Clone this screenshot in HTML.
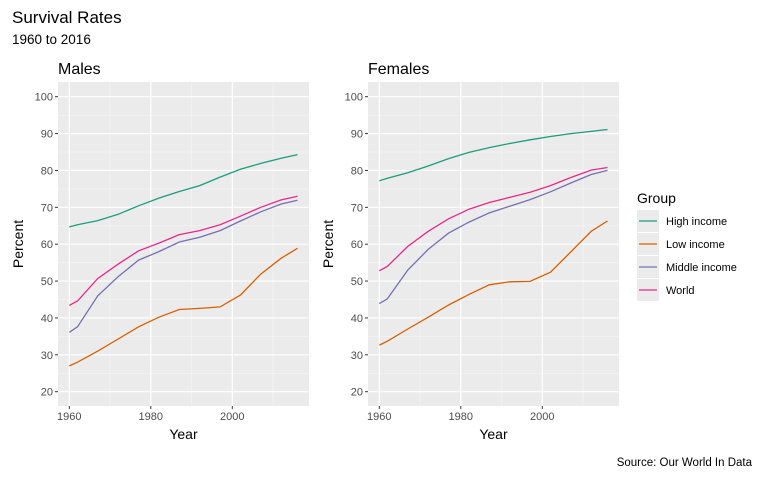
<!DOCTYPE html>
<html><head><meta charset="utf-8"><style>
body{margin:0;background:#fff;font-family:"Liberation Sans",Arial,sans-serif}
svg text{font-family:"Liberation Sans",Arial,sans-serif}
</style></head><body>
<svg id="c" width="768" height="474" xmlns="http://www.w3.org/2000/svg">
<text x="12" y="23" font-size="17" fill="#000">Survival Rates</text>
<text x="12" y="44" font-size="13.5" fill="#000">1960 to 2016</text>
<text x="752" y="466" font-size="11.5" fill="#000" text-anchor="end">Source: Our World In Data</text>
<g id="plots"></g>
<g>
<text x="637" y="203" font-size="14" fill="#000">Group</text>
<g id="leg"></g>
</g>
</svg>
<script>
const years=[1960,1962,1967,1972,1977,1982,1987,1992,1997,2002,2007,2012,2016];
const groups=["High income","Low income","Middle income","World"];
const colors=["#1b9e77","#d95f02","#7570b3","#e7298a"];
const malesHigh=[64.7,65.3,66.4,68.1,70.4,72.5,74.3,75.9,78.2,80.3,81.9,83.3,84.3];
const malesLow=[27,28,31,34.3,37.6,40.2,42.3,42.6,43,46.2,51.9,56.2,58.9];
const malesMiddle=[36.1,37.6,46,51.2,55.7,58,60.6,61.9,63.7,66.3,68.8,70.9,71.9];
const malesWorld=[43.4,44.6,50.7,54.6,58.2,60.3,62.6,63.7,65.3,67.6,70,72,73];
const femalesHigh=[77.2,77.9,79.4,81.2,83.2,84.9,86.2,87.3,88.3,89.2,90,90.6,91.1];
const femalesLow=[32.6,33.7,37,40.2,43.5,46.4,49,49.8,49.9,52.4,57.9,63.5,66.3];
const femalesMiddle=[43.9,45.2,53,58.6,63,66,68.5,70.3,72.1,74.2,76.6,78.9,80];
const femalesWorld=[52.8,54,59.4,63.5,66.9,69.5,71.3,72.7,74.1,75.9,78.1,80.1,80.8];
const yTicks=[20,30,40,50,60,70,80,90,100];
const xTicks=[1960,1980,2000];
const NS="http://www.w3.org/2000/svg";
function mk(tag,attrs,parent){const e=document.createElementNS(NS,tag);for(const k in attrs)e.setAttribute(k,attrs[k]);parent.appendChild(e);return e;}
const plots=document.getElementById('plots');
const panels=[{t:"Males",off:0,s:[malesHigh,malesLow,malesMiddle,malesWorld]},{t:"Females",off:310,s:[femalesHigh,femalesLow,femalesMiddle,femalesWorld]}];
const yS=v=>391.7-(v-20)*(391.7-96.7)/80;
panels.forEach(p=>{
  const xS=v=>69.3+p.off+(v-1960)*4.075;
  const g=mk('g',{},plots);
  
  
  const L=58+p.off,R=309+p.off,T=82,B=406;
  mk('rect',{x:L,y:T,width:R-L,height:B-T,fill:'#ebebeb'},g);
  for(let v=25;v<=95;v+=10)mk('line',{x1:L,x2:R,y1:yS(v),y2:yS(v),stroke:'#f5f5f5','stroke-width':0.6},g);
  for(let v=1970;v<=2010;v+=20)mk('line',{x1:xS(v),x2:xS(v),y1:T,y2:B,stroke:'#f5f5f5','stroke-width':0.6},g);
  yTicks.forEach(v=>{
    mk('line',{x1:L,x2:R,y1:yS(v),y2:yS(v),stroke:'#fff','stroke-width':1.2},g);
    mk('line',{x1:L-3,x2:L,y1:yS(v),y2:yS(v),stroke:'#333','stroke-width':1},g);
    const t=mk('text',{x:L-5,y:yS(v)+4,'font-size':11,fill:'#4d4d4d','text-anchor':'end'},g);t.textContent=v;
    
    
  });
  xTicks.forEach(v=>{
    mk('line',{x1:xS(v),x2:xS(v),y1:T,y2:B,stroke:'#fff','stroke-width':1.2},g);
    mk('line',{x1:xS(v),x2:xS(v),y1:B,y2:B+3,stroke:'#333','stroke-width':1},g);
    const t=mk('text',{x:xS(v),y:B+14,'font-size':11,fill:'#4d4d4d','text-anchor':'middle'},g);t.textContent=v;
    
    
  });
  const tt=mk('text',{x:L,y:74,'font-size':16,fill:'#000'},g);tt.textContent=p.t;
  
  
  const xt=mk('text',{x:(L+R)/2,y:439,'font-size':14,fill:'#000','text-anchor':'middle'},g);xt.textContent='Year';
  
  
  const yx=L-35,yy=(T+B)/2;
  const yt=mk('text',{x:yx,y:yy,'font-size':14,fill:'#000','text-anchor':'middle',transform:`rotate(-90 ${yx} ${yy})`},g);yt.textContent='Percent';
  
  
  p.s.forEach((arr,i)=>{
    const d=arr.map((v,j)=>(j?'L':'M')+xS(years[j]).toFixed(1)+','+yS(v).toFixed(1)).join('');
    const path=mk('path',{d:d,fill:'none',stroke:colors[i],'stroke-width':1.3},g);
    
    
  });
});
const leg=document.getElementById('leg');
groups.forEach((gname,i)=>{
  const y=221+i*23;
  const g=mk('g',{},leg);
  
  
  mk('rect',{x:637,y:y-11,width:22,height:22,fill:'#ebebeb'},g);
  mk('line',{x1:639,x2:657,y1:y,y2:y,stroke:colors[i],'stroke-width':1.3},g);
  const t=mk('text',{x:666,y:y+4,'font-size':11,fill:'#000'},g);t.textContent=gname;
});
</script>
</body></html>
